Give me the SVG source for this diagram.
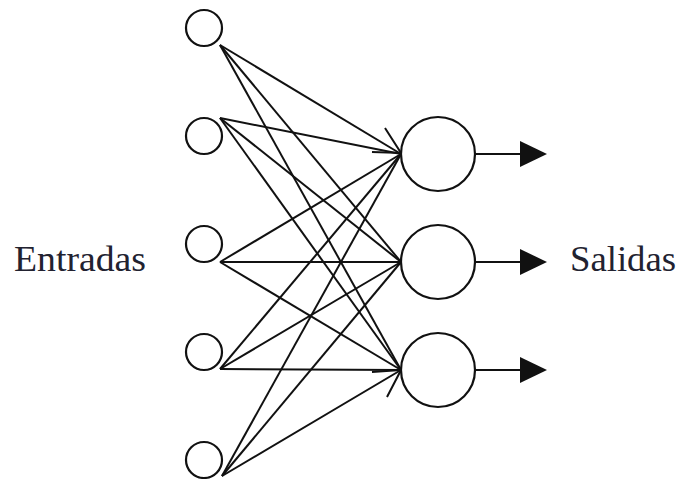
<svg xmlns="http://www.w3.org/2000/svg" width="680" height="479" viewBox="0 0 680 479">
<style>
.n{fill:#fff;stroke:#111;stroke-width:2.2}
.c line,.c path{stroke:#111;stroke-width:2;fill:none}
.t{font-family:"Liberation Serif","Times New Roman",serif;font-size:35px;fill:#222230}
.h{fill:#111}
</style>
<rect width="680" height="479" fill="#fff"/>
<g id="connectors" class="c">
<line x1="220" y1="45" x2="401" y2="154"/>
<line x1="220" y1="45" x2="401" y2="262"/>
<line x1="220" y1="45" x2="401" y2="370"/>
<line x1="220" y1="118" x2="401" y2="154"/>
<line x1="220" y1="118" x2="401" y2="262"/>
<line x1="220" y1="118" x2="401" y2="370"/>
<line x1="220" y1="262" x2="401" y2="154"/>
<line x1="220" y1="262" x2="401" y2="262"/>
<line x1="220" y1="262" x2="401" y2="370"/>
<line x1="220" y1="369" x2="401" y2="154"/>
<line x1="220" y1="369" x2="401" y2="262"/>
<line x1="220" y1="369" x2="401" y2="370"/>
<line x1="222" y1="476" x2="401" y2="154"/>
<line x1="222" y1="476" x2="401" y2="262"/>
<line x1="222" y1="476" x2="401" y2="370"/>
<path d="M385,128 L401,153 L372,152"/>
<path d="M372,372 L401,370 L387,397"/>
<line x1="475" y1="154" x2="521" y2="154"/>
<line x1="475" y1="262" x2="521" y2="262"/>
<line x1="475" y1="370" x2="521" y2="370"/>
<polygon class="h" points="520,141 547,154 520,167"/>
<polygon class="h" points="520,249 547,262 520,275"/>
<polygon class="h" points="520,357 547,370 520,383"/>
</g>
<g id="in1"><circle class="n" cx="204" cy="28" r="18"/></g>
<g id="in2"><circle class="n" cx="204" cy="136" r="18"/></g>
<g id="in3"><circle class="n" cx="204" cy="244" r="18"/></g>
<g id="in4"><circle class="n" cx="204" cy="352" r="18"/></g>
<g id="in5"><circle class="n" cx="204" cy="460" r="18"/></g>
<g id="out1"><circle class="n" cx="438" cy="154" r="37"/></g>
<g id="out2"><circle class="n" cx="438" cy="262" r="37"/></g>
<g id="out3"><circle class="n" cx="438" cy="370" r="37"/></g>
<g id="label-entradas"><text class="t" x="14" y="271" textLength="132" lengthAdjust="spacingAndGlyphs">Entradas</text></g>
<g id="label-salidas"><text class="t" x="570" y="271" textLength="106" lengthAdjust="spacingAndGlyphs">Salidas</text></g>
</svg>
